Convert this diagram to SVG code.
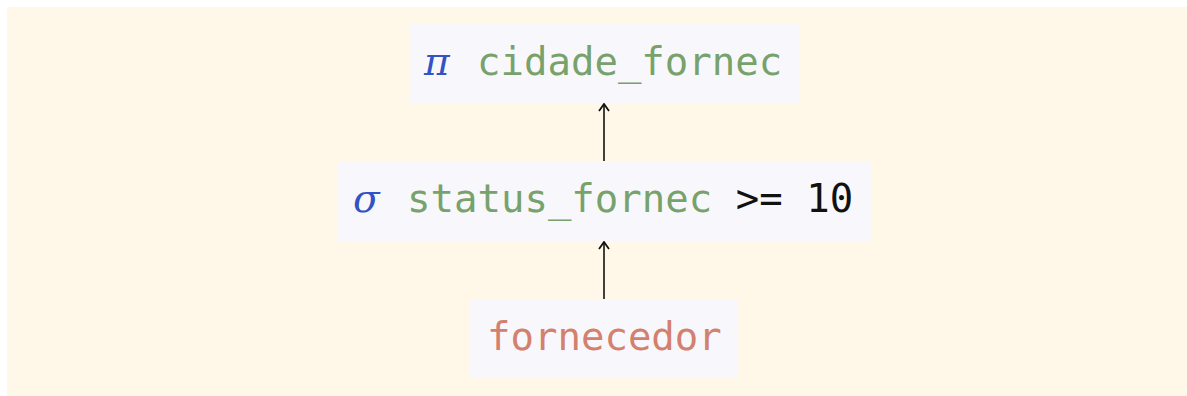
<svg xmlns="http://www.w3.org/2000/svg" width="1187" height="396" viewBox="0 0 1187 396">
<style>
.box{fill:#f8f8fc}
.t{font-family:"DejaVu Sans Mono",monospace;font-size:39px}
.op{fill:#3352c4;font-family:"DejaVu Serif",serif;font-style:italic}
.attr{fill:#78a26c}
.rel{fill:#d4806f}
.k{fill:#111}
.edge{stroke:#111;stroke-width:1.6;fill:none}
</style>
<defs>
<marker id="ah" viewBox="0 0 12 12" refX="11" refY="6" markerWidth="12" markerHeight="12" markerUnits="userSpaceOnUse" orient="auto">
<path d="M4,1 L11,6 L4,11" fill="none" stroke="#111" stroke-width="1.8"/>
</marker>
</defs>
<rect x="7" y="7" width="1180" height="389" fill="#fff7e7"/>
<g id="connectors">
<line class="edge" x1="604" y1="161" x2="604" y2="104" marker-end="url(#ah)"/>
<line class="edge" x1="604" y1="299" x2="604" y2="242" marker-end="url(#ah)"/>
</g>
<g id="node-project">
<rect class="box" x="409" y="24" width="391" height="79"/>
<text class="t" x="424" y="75"><tspan class="op">π</tspan><tspan class="attr" x="477">cidade_fornec</tspan></text>
</g>
<g id="node-select">
<rect class="box" x="338" y="161" width="533" height="80"/>
<text class="t" x="353" y="212"><tspan class="op">σ</tspan><tspan class="attr" x="407">status_fornec</tspan><tspan class="k"> &gt;= 10</tspan></text>
</g>
<g id="node-relation">
<rect class="box" x="470" y="299" width="268" height="79"/>
<text class="t rel" x="487" y="350">fornecedor</text>
</g>
</svg>
